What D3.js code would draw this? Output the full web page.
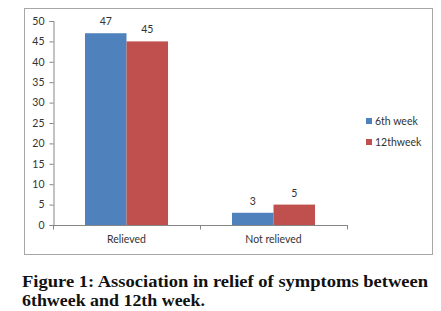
<!DOCTYPE html>
<html>
<head>
<meta charset="utf-8">
<script src="https://cdnjs.cloudflare.com/ajax/libs/d3/7.8.5/d3.min.js"></script>
<style>
  body { margin: 0; background: #fff; }
  svg text { font-family: Lato, "Liberation Sans", sans-serif; }
</style>
</head>
<body>
<div id="chart"></div>
<script>
// dados
const categories = ["Relieved", "Not relieved"];
const seriesNames = ["6th week", "12thweek"];
const week6 = [47, 3];
const week12 = [45, 5];
const yTicks = [0, 5, 10, 15, 20, 25, 30, 35, 40, 45, 50];
const colors = ["#4F81BD", "#C0504D"];

const W = 441, H = 311;
const plot = {left: 53, right: 347, top: 21, bottom: 225};

const svg = d3.select("#chart").append("svg")
    .attr("width", W)
    .attr("height", H);

// moldura
svg.append("rect")
    .attr("x", 24.5).attr("y", 8.5)
    .attr("width", 408).attr("height", 246)
    .attr("fill", "none")
    .attr("stroke", "#a6a6a6");

const x0 = d3.scaleBand()
    .domain(categories)
    .range([plot.left, plot.right])
    .paddingInner(0.435)
    .paddingOuter(0.2175);

const x1 = d3.scaleBand()
    .domain(seriesNames)
    .range([0, x0.bandwidth()]);

const y = d3.scaleLinear()
    .domain([0, 50])
    .range([plot.bottom, plot.top]);

// eixo y
const yAxis = d3.axisLeft(y).tickValues(yTicks).tickSize(4).tickPadding(5);
const gy = svg.append("g")
    .attr("transform", `translate(${plot.left + 0.5},0)`)
    .call(yAxis);
gy.select(".domain").attr("stroke", "#868686");
gy.selectAll(".tick line").attr("stroke", "#868686");
gy.selectAll(".tick text").attr("fill", "#333").style("font-size", "10.5px");

// eixo x
const xBoundaries = d3.scaleLinear().domain([0, categories.length]).range([plot.left, plot.right]);
const gx = svg.append("g");
gx.append("line")
    .attr("x1", plot.left).attr("x2", plot.right)
    .attr("y1", y(0) + 0.5).attr("y2", y(0) + 0.5)
    .attr("stroke", "#868686");
gx.selectAll(".xtick")
    .data(d3.range(categories.length + 1))
    .enter().append("line")
    .attr("x1", d => Math.round(xBoundaries(d)) + 0.5)
    .attr("x2", d => Math.round(xBoundaries(d)) + 0.5)
    .attr("y1", y(0))
    .attr("y2", y(0) + 4.5)
    .attr("stroke", "#868686");
gx.selectAll(".xlabel")
    .data(categories)
    .enter().append("text")
    .attr("x", d => x0(d) + x0.bandwidth() / 2)
    .attr("y", y(0) + 18)
    .attr("text-anchor", "middle")
    .attr("fill", "#333")
    .style("font-size", "10.5px")
    .text(d => d);

// barras
const rows = categories.map((c, i) => ({cat: c, values: [week6[i], week12[i]]}));
const groups = svg.selectAll(".grp")
    .data(rows)
    .enter().append("g")
    .attr("transform", d => `translate(${x0(d.cat)},0)`);

groups.selectAll("rect")
    .data(d => d.values.map((v, j) => ({name: seriesNames[j], value: v, j: j})))
    .enter().append("rect")
    .attr("x", d => x1(d.name))
    .attr("width", x1.bandwidth())
    .attr("y", d => y(d.value))
    .attr("height", d => y(0) - y(d.value))
    .attr("fill", d => colors[d.j]);

groups.selectAll(".val")
    .data(d => d.values.map((v, j) => ({name: seriesNames[j], value: v})))
    .enter().append("text")
    .attr("x", d => x1(d.name) + x1.bandwidth() / 2)
    .attr("y", d => y(d.value) - 8)
    .attr("text-anchor", "middle")
    .attr("fill", "#333")
    .style("font-size", "10.5px")
    .text(d => d.value);

// legenda
const legend = svg.selectAll(".legend")
    .data(seriesNames)
    .enter().append("g")
    .attr("transform", (d, i) => `translate(366,${121 + i * 21})`);

legend.append("rect")
    .attr("x", 0).attr("y", -3)
    .attr("width", 6).attr("height", 6)
    .attr("fill", (d, i) => colors[i]);

legend.append("text")
    .attr("x", 9)
    .attr("y", 0)
    .attr("dy", "0.35em")
    .attr("fill", "#333")
    .style("font-size", "10.5px")
    .text(d => d);

// legenda da figura
const caption = svg.append("g")
    .style("font-weight", "bold")
    .style("font-size", "16.5px")
    .attr("fill", "#111");

caption.append("text")
    .attr("x", 22).attr("y", 287)
    .attr("textLength", 406)
    .attr("lengthAdjust", "spacingAndGlyphs")
    .style("font-family", "'Liberation Serif', serif")
    .text("Figure 1: Association in relief of symptoms between");

caption.append("text")
    .attr("x", 22).attr("y", 306)
    .attr("textLength", 183)
    .attr("lengthAdjust", "spacingAndGlyphs")
    .style("font-family", "'Liberation Serif', serif")
    .text("6thweek and 12th week.");
</script>
</body>
</html>
